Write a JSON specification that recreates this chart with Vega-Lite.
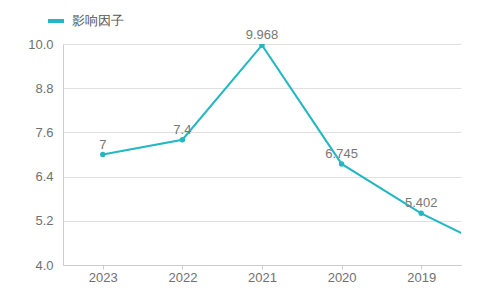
{
  "$schema": "https://vega.github.io/schema/vega-lite/v6.json",
  "width": 398,
  "height": 221,
  "autosize": {"type": "none"},
  "padding": {"left": 63, "top": 44, "right": 17, "bottom": 41},
  "config": {"view": {"stroke": null}, "font": "Liberation Sans"},
  "data": {
    "values": [
      {"year": 2023, "value": 7, "label": "7", "series": "影响因子"},
      {"year": 2022, "value": 7.4, "label": "7.4", "series": "影响因子"},
      {"year": 2021, "value": 9.968, "label": "9.968", "series": "影响因子"},
      {"year": 2020, "value": 6.745, "label": "6.745", "series": "影响因子"},
      {"year": 2019, "value": 5.402, "label": "5.402", "series": "影响因子"},
      {"year": 2018, "value": 4.34, "label": "", "series": "影响因子"}
    ]
  },
  "encoding": {
    "x": {
      "field": "year",
      "type": "quantitative",
      "scale": {"domain": [2018.5, 2023.5], "reverse": true, "nice": false, "zero": false},
      "axis": {
        "values": [2019, 2020, 2021, 2022, 2023],
        "format": "d",
        "grid": false,
        "title": null,
        "labelColor": "#707070",
        "labelFontSize": 13,
        "domainColor": "#cccccc",
        "tickColor": "#cccccc",
        "tickSize": 4,
        "labelPadding": 2
      }
    },
    "y": {
      "field": "value",
      "type": "quantitative",
      "scale": {"domain": [4, 10], "nice": false, "zero": false},
      "axis": {
        "values": [4, 5.2, 6.4, 7.6, 8.8, 10],
        "format": ".1f",
        "title": null,
        "grid": true,
        "gridColor": "#e0e0e0",
        "domainColor": "#cccccc",
        "ticks": false,
        "labelColor": "#707070",
        "labelFontSize": 13,
        "labelPadding": 10
      }
    }
  },
  "layer": [
    {
      "mark": {"type": "line", "strokeWidth": 2, "clip": true},
      "encoding": {
        "color": {
          "field": "series",
          "type": "nominal",
          "scale": {"range": ["#23b7c3"]},
          "legend": {
            "title": null,
            "orient": "none",
            "legendX": -17,
            "legendY": -33,
            "symbolType": "stroke",
            "symbolSize": 256,
            "symbolStrokeWidth": 4,
            "labelFontSize": 13,
            "labelColor": "#555555",
            "labelOffset": 6,
            "padding": 0
          }
        }
      }
    },
    {
      "mark": {"type": "point", "filled": true, "size": 30, "opacity": 1, "color": "#23b7c3", "clip": true},
      "encoding": {}
    },
    {
      "mark": {"type": "text", "dy": -10, "fontSize": 13, "color": "#777777", "clip": false},
      "encoding": {"text": {"field": "label"}}
    }
  ]
}
